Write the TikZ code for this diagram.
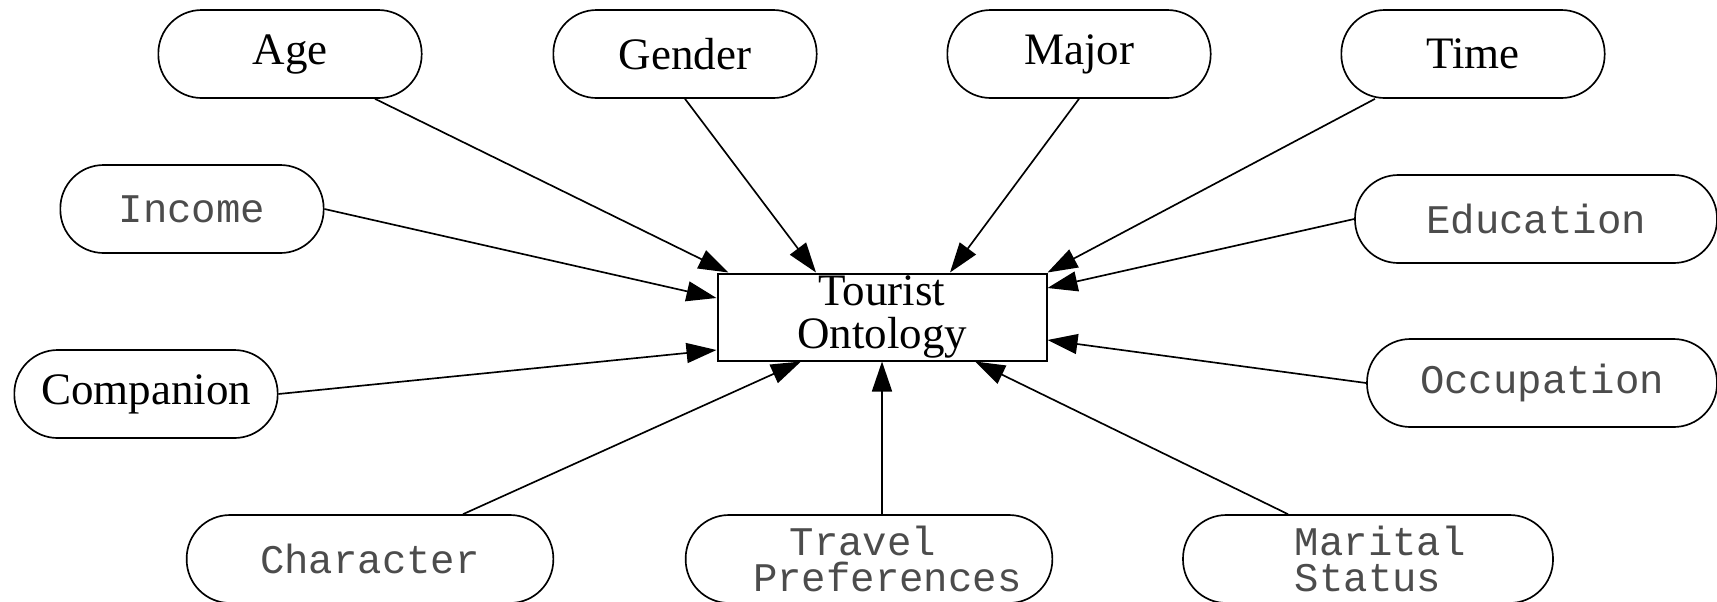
\documentclass[tikz,border=0pt]{standalone}
\usepackage{fontspec}
\setmainfont{Liberation Serif}
\setmonofont{Liberation Mono}
\usetikzlibrary{arrows.meta,calc}

\begin{document}
\begin{tikzpicture}[->,>={Triangle[length=9pt,width=6pt]},x=0.3pt,y=-0.3pt,
  attr/.style={draw,rounded corners=13pt,minimum height=26.4pt,minimum width=79pt,inner sep=0pt,line width=0.5pt,font=\fontsize{13.5pt}{15pt}\selectfont},
  mattr/.style={attr,text=black!70,align=left,font=\fontsize{12.2pt}{11pt}\selectfont\ttfamily},
  onto/.style={draw,line width=0.6pt,minimum width=98.7pt,minimum height=26.1pt,inner sep=0pt,align=center,font=\fontsize{13.5pt}{13pt}\selectfont}]

  \useasboundingbox (0,0) rectangle (1717,601);

    % The ontology
	\node [onto] at (882,317) (tour) {Tourist\\Ontology};

    % Upper attributes
	\node [attr] at (290,54) (age) {Age};
	\node [attr] at (685,54) (gender) {Gender};
	\node [attr] at (1079,54) (major) {Major};
	\node [attr] at (1473,54) (time) {Time};
	\node [mattr] at (192,209) (income) {Income};
	\node [mattr,minimum width=108.6pt] at (1536,219) (edu) {Education};

    % Lower attributes
	\node [attr] at (146,394) (comp) {Companion};
	\node [mattr,minimum width=105pt] at (1542,383) (occ) {Occupation};
	\node [mattr,minimum width=110pt] at (370,559) (charac) {Character};
	\node [mattr,minimum width=110pt] at (869,559) (trav) {\hspace*{1.8em}Travel\\\hspace*{0.9em}Preferences};
	\node [mattr,minimum width=111pt] at (1368,559) (marit) {\hspace*{0.6em}Marital\\\hspace*{0.6em}Status};

	% Attribute edges
	\path[->,line width=0.5pt]
	($(age.south)+(85,0)$) edge ($(tour.north west)+(12,0)$)
	(gender.south) edge ($(tour.north)+(-66,0)$)
	(major.south) edge ($(tour.north)+(68,0)$)
	($(time.south)+(-98,0)$) edge (tour.north east)
	(income.east) edge ($(tour.west)+(0,-19)$)
	(comp.east) edge ($(tour.west)+(0,33)$)
	(edu.west) edge ($(tour.east)+(0,-29)$)
	(occ.west) edge ($(tour.east)+(0,23)$)
	($(charac.north)+(93,0)$) edge ($(tour.south)+(-81,0)$)
	(trav.north -| tour.south) edge (tour.south)
	($(marit.north)+(-80,0)$) edge ($(tour.south)+(93,0)$);

\end{tikzpicture}
\end{document}
